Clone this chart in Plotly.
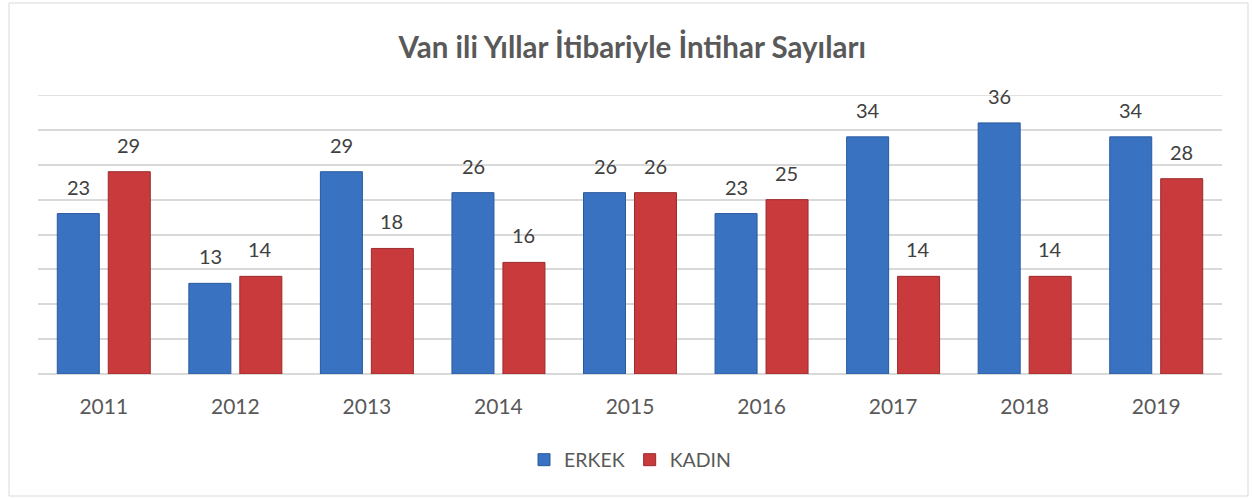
import plotly.graph_objects as go

years = ["2011", "2012", "2013", "2014", "2015", "2016", "2017", "2018", "2019"]
erkek = [23, 13, 29, 26, 26, 23, 34, 36, 34]
kadin = [29, 14, 18, 16, 26, 25, 14, 14, 28]

FONT = "Lato"
W, H = 1252, 498
ml, mr, mt, mb = 38, 30, 95, 124
pw, ph = W - ml - mr, H - mt - mb

fig = go.Figure()
fig.add_trace(go.Bar(
    name="ERKEK", x=years, y=erkek,
    marker=dict(color="#3a72c2", line=dict(color="#2a5a9e", width=1)),
))
fig.add_trace(go.Bar(
    name="KADIN", x=years, y=kadin,
    marker=dict(color="#c93a3c", line=dict(color="#9c2a2c", width=1)),
))

annotations = []
for series, shift in ((erkek, -25), (kadin, 25)):
    for i, v in enumerate(series):
        annotations.append(dict(
            x=i, y=v, xref="x", yref="y", text=str(v), showarrow=False,
            xshift=shift, yshift=13, yanchor="bottom",
            font=dict(family=FONT, size=20, color="#404040")))

fig.update_layout(
    width=W, height=H,
    margin=dict(l=ml, r=mr, t=mt, b=mb),
    paper_bgcolor="white", plot_bgcolor="white",
    barmode="group", bargap=0.225, bargroupgap=0.176,
    title=dict(text="<b>Van ili Yıllar İtibariyle İntihar Sayıları</b>",
               x=0.505, xanchor="center", y=1 - 48 / H, yanchor="middle",
               font=dict(family=FONT, size=29.5, color="#595959")),
    font=dict(family=FONT, color="#595959"),
    legend=dict(orientation="h", x=0.5, xanchor="center",
                y=(374 - 460) / ph, yanchor="middle",
                font=dict(family=FONT, size=19.5, color="#595959"),
                itemwidth=30, traceorder="normal"),
    xaxis=dict(type="category", showgrid=False, showline=False, ticks="",
               range=[-0.5, len(years) - 0.5], ticklabelstandoff=18,
               tickfont=dict(family=FONT, size=21, color="#595959")),
    yaxis=dict(range=[0, 40], dtick=5, showticklabels=False,
               showgrid=True, gridcolor="#d9d9d9", gridwidth=1.5,
               zeroline=True, zerolinecolor="#d9d9d9", zerolinewidth=1.5,
               showline=False),
    annotations=annotations,
    shapes=[dict(type="rect", xref="paper", yref="paper",
                 x0=(9 - ml) / pw, x1=(1248 - ml) / pw,
                 y0=(374 - 496) / ph, y1=(374 - 3) / ph,
                 line=dict(color="#d9d9d9", width=1), layer="below"),
            dict(type="line", xref="paper", yref="y",
                 x0=0, x1=1, y0=40, y1=40,
                 line=dict(color="#d9d9d9", width=1.5), layer="below")],
)

fig.write_html("out.html", config={"displayModeBar": False},
               post_script="document.body.style.margin='0';")
